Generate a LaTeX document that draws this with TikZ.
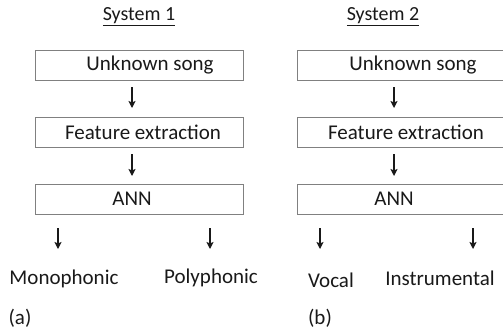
\documentclass[tikz,border=0pt]{standalone}
\usepackage{fontspec}
\setmainfont{Carlito}
\usepackage{tikz}
\usetikzlibrary{arrows.meta}
\colorlet{ink}{black!90}
\colorlet{frame}{black!50}

\begin{document}
\begin{tikzpicture}[
  x=1pt,y=-1pt,
  every node/.style={text=ink,font=\fontsize{21}{25}\selectfont,inner sep=0pt},
  stagebox/.style={draw=frame,line width=1.2pt,minimum width=208pt,minimum height=30pt},
  flow/.style={draw=ink,line width=1.2pt,-{Stealth[length=7pt,width=7pt,inset=1.5pt]}},
  title/.style={font=\fontsize{20}{24}\selectfont},
]
\useasboundingbox (0,0) rectangle (503,332);
% system 1
\node[title] (title1) at (139,17) {\underline{System 1}};
\node[stagebox,anchor=north west] (song1) at (35,50) {};
\node[stagebox,anchor=north west] (feat1) at (35,117) {};
\node[stagebox,anchor=north west] (ann1) at (35,184) {};
\node (songtxt1) at (150,65) {Unknown song};
\node (feattxt1) at (143,132) {Feature extraction};
\node (anntxt1) at (132,199) {ANN};
\coordinate (mono1) at (58,249);
\coordinate (poly1) at (210,249);
\node (mono) at (64,279) {Monophonic};
\node (poly) at (211,278) {Polyphonic};
\node (cap1) at (20,318) {(a)};
\draw[flow,shorten <=6pt,shorten >=9pt] (song1.south -| 132,0) -- (feat1.north -| 132,0);
\draw[flow,shorten <=6pt,shorten >=8pt] (feat1.south -| 132,0) -- (ann1.north -| 132,0);
\draw[flow,shorten <=13pt] (ann1.south -| mono1) -- (mono1);
\draw[flow,shorten <=13pt] (ann1.south -| poly1) -- (poly1);
% system 2
\node[title] (title2) at (383,17) {\underline{System 2}};
\node[stagebox,anchor=north west] (song2) at (297,50) {};
\node[stagebox,anchor=north west] (feat2) at (297,117) {};
\node[stagebox,anchor=north west] (ann2) at (297,184) {};
\node (songtxt2) at (413,65) {Unknown song};
\node (feattxt2) at (406,132) {Feature extraction};
\node (anntxt2) at (394,199) {ANN};
\coordinate (vocal2) at (320,249);
\coordinate (instr2) at (473,249);
\node (vocal) at (331,280) {Vocal};
\node (instr) at (440,278) {Instrumental};
\node (cap2) at (320,318) {(b)};
\draw[flow,shorten <=6pt,shorten >=9pt] (song2.south -| 394,0) -- (feat2.north -| 394,0);
\draw[flow,shorten <=6pt,shorten >=8pt] (feat2.south -| 394,0) -- (ann2.north -| 394,0);
\draw[flow,shorten <=13pt] (ann2.south -| vocal2) -- (vocal2);
\draw[flow,shorten <=13pt] (ann2.south -| instr2) -- (instr2);
\end{tikzpicture}
\end{document}
